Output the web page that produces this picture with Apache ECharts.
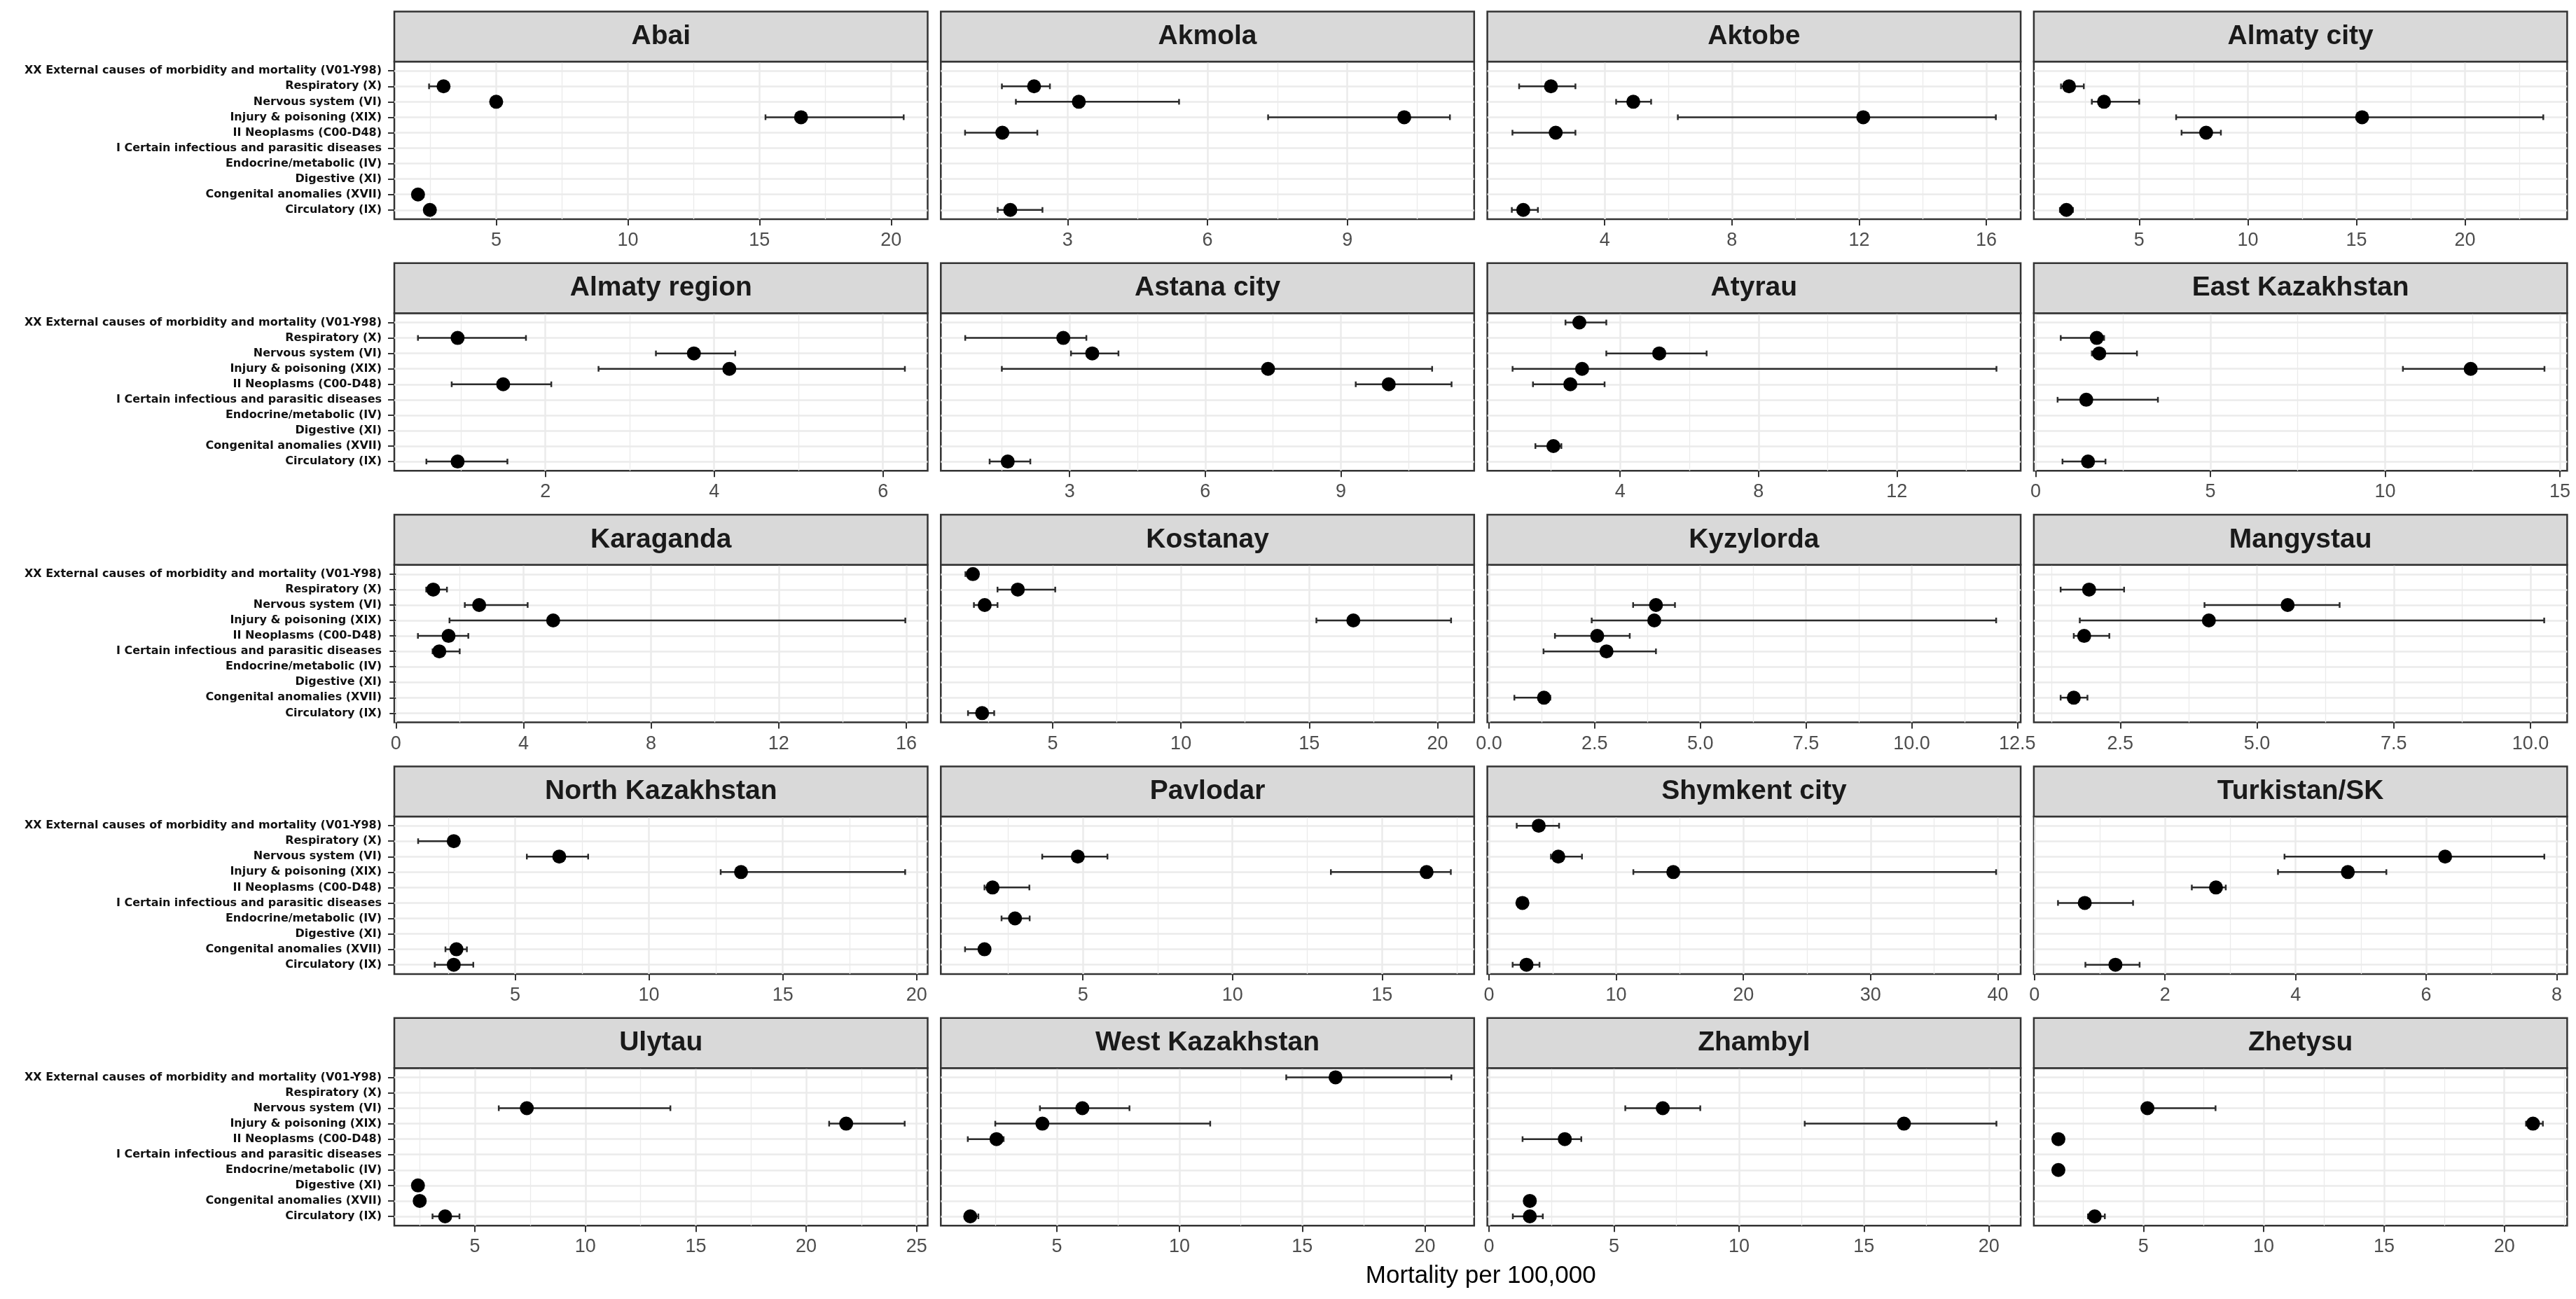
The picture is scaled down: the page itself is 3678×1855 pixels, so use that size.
<!DOCTYPE html>
<html>
<head>
<meta charset="utf-8">
<script src="https://cdn.jsdelivr.net/npm/echarts@6/dist/echarts.min.js"></script>
<style>
html,body{margin:0;padding:0;background:#fff;}
#chart{width:3678px;height:1855px;}
</style>
</head>
<body>
<div id="chart"></div>
<script>
// ---- categories (top to bottom) ----
const categories = [
  "XX External causes of morbidity and mortality (V01-Y98)",
  "Respiratory (X)",
  "Nervous system (VI)",
  "Injury & poisoning (XIX)",
  "II Neoplasms (C00-D48)",
  "I Certain infectious and parasitic diseases",
  "Endocrine/metabolic (IV)",
  "Digestive (XI)",
  "Congenital anomalies (XVII)",
  "Circulatory (IX)"
];

const regions = ["Abai","Akmola","Aktobe","Almaty city","Almaty region","Astana city","Atyrau","East Kazakhstan",
  "Karaganda","Kostanay","Kyzylorda","Mangystau","North Kazakhstan","Pavlodar","Shymkent city","Turkistan/SK",
  "Ulytau","West Kazakhstan","Zhambyl","Zhetysu"];

// ---- estimates / lower / upper, per region, in category order ----
const est_Abai = [null, 3.0, 5.0, 16.58, null, null, null, null, 2.03, 2.48];
const lo_Abai  = [null, 2.45, 4.9, 15.23, null, null, null, null, 2.0, 2.4];
const hi_Abai  = [null, 3.2, 5.1, 20.48, null, null, null, null, 2.1, 2.6];

const est_Akmola = [null, 2.28, 3.24, 10.22, 1.6, null, null, null, null, 1.77];
const lo_Akmola  = [null, 1.59, 1.89, 7.3, 0.8, null, null, null, null, 1.5];
const hi_Akmola  = [null, 2.62, 5.39, 11.2, 2.35, null, null, null, null, 2.46];

const est_Aktobe = [null, 2.31, 4.9, 12.13, 2.46, null, null, null, null, 1.44];
const lo_Aktobe  = [null, 1.31, 4.36, 6.3, 1.1, null, null, null, null, 1.08];
const hi_Aktobe  = [null, 3.08, 5.46, 16.3, 3.08, null, null, null, null, 1.9];

const est_AlmatyCity = [null, 1.77, 3.38, 15.26, 8.08, null, null, null, null, 1.65];
const lo_AlmatyCity  = [null, 1.4, 2.82, 6.7, 6.95, null, null, null, null, 1.35];
const hi_AlmatyCity  = [null, 2.45, 5.0, 23.6, 8.76, null, null, null, null, 1.95];

const est_AlmatyRegion = [null, 0.96, 3.76, 4.18, 1.5, null, null, null, null, 0.96];
const lo_AlmatyRegion  = [null, 0.49, 3.31, 2.63, 0.89, null, null, null, null, 0.59];
const hi_AlmatyRegion  = [null, 1.77, 4.25, 6.26, 2.07, null, null, null, null, 1.55];

const est_Astana = [null, 2.86, 3.5, 7.39, 10.06, null, null, null, null, 1.63];
const lo_Astana  = [null, 0.69, 3.03, 1.5, 9.33, null, null, null, null, 1.23];
const hi_Astana  = [null, 3.37, 4.08, 11.02, 11.45, null, null, null, null, 2.13];

const est_Atyrau = [2.82, null, 5.13, 2.9, 2.56, null, null, null, 2.07, null];
const lo_Atyrau  = [2.42, null, 3.6, 0.89, 1.48, null, null, null, 1.55, null];
const hi_Atyrau  = [3.6, null, 6.5, 14.88, 3.55, null, null, null, 2.3, null];

const est_EastKaz = [null, 1.75, 1.82, 12.45, null, 1.45, null, null, null, 1.5];
const lo_EastKaz  = [null, 0.72, 1.61, 10.51, null, 0.63, null, null, null, 0.77];
const hi_EastKaz  = [null, 1.96, 2.9, 14.56, null, 3.5, null, null, null, 2.0];

const est_Karaganda = [null, 1.17, 2.61, 4.93, 1.65, 1.36, null, null, null, null];
const lo_Karaganda  = [null, 0.95, 2.16, 1.68, 0.69, 1.15, null, null, null, null];
const hi_Karaganda  = [null, 1.6, 4.13, 15.97, 2.27, 2.0, null, null, null, null];

const est_Kostanay = [1.89, 3.64, 2.35, 16.72, null, null, null, null, null, 2.25];
const lo_Kostanay  = [1.6, 2.85, 1.93, 15.28, null, null, null, null, null, 1.7];
const hi_Kostanay  = [2.0, 5.1, 2.85, 20.53, null, null, null, null, null, 2.72];

const est_Kyzylorda = [null, null, 3.95, 3.91, 2.56, 2.78, null, null, 1.3, null];
const lo_Kyzylorda  = [null, null, 3.41, 2.43, 1.56, 1.29, null, null, 0.6, null];
const hi_Kyzylorda  = [null, null, 4.4, 12.0, 3.33, 3.95, null, null, 1.45, null];

const est_Mangystau = [null, 1.93, 5.56, 4.12, 1.84, null, null, null, 1.65, null];
const lo_Mangystau  = [null, 1.41, 4.04, 1.76, 1.65, null, null, null, 1.41, null];
const hi_Mangystau  = [null, 2.57, 6.51, 10.25, 2.3, null, null, null, 1.9, null];

const est_NorthKaz = [null, 2.71, 6.65, 13.44, null, null, null, null, 2.81, 2.71];
const lo_NorthKaz  = [null, 1.38, 5.44, 12.68, null, null, null, null, 2.4, 2.0];
const hi_NorthKaz  = [null, 2.8, 7.73, 19.57, null, null, null, null, 3.2, 3.44];

const est_Pavlodar = [null, null, 4.83, 16.49, 1.98, null, 2.73, null, 1.71, null];
const lo_Pavlodar  = [null, null, 3.64, 13.29, 1.71, null, 2.28, null, 1.06, null];
const hi_Pavlodar  = [null, null, 5.82, 17.3, 3.21, null, 3.22, null, 1.85, null];

const est_Shymkent = [3.91, null, 5.45, 14.49, null, 2.63, null, null, null, 2.95];
const lo_Shymkent  = [2.18, null, 4.87, 11.35, null, 2.5, null, null, null, 1.86];
const hi_Shymkent  = [5.51, null, 7.31, 39.87, null, 2.75, null, null, null, 3.97];

const est_Turkistan = [null, null, 6.29, 4.8, 2.78, 0.77, null, null, null, 1.24];
const lo_Turkistan  = [null, null, 3.83, 3.73, 2.41, 0.36, null, null, null, 0.78];
const hi_Turkistan  = [null, null, 7.81, 5.39, 2.93, 1.51, null, null, null, 1.61];

const est_Ulytau = [null, null, 7.35, 21.81, null, null, null, 2.42, 2.5, 3.65];
const lo_Ulytau  = [null, null, 6.08, 21.04, null, null, null, 2.42, 2.45, 3.08];
const hi_Ulytau  = [null, null, 13.85, 24.46, null, null, null, 2.5, 2.55, 4.3];

const est_WestKaz = [16.36, null, 6.04, 4.41, 2.54, null, null, null, null, 1.47];
const lo_WestKaz  = [14.35, null, 4.31, 2.49, 1.37, null, null, null, null, 1.26];
const hi_WestKaz  = [21.08, null, 7.96, 11.25, 2.83, null, null, null, null, 1.8];

const est_Zhambyl = [null, null, 6.95, 16.6, 3.03, null, null, null, 1.63, 1.63];
const lo_Zhambyl  = [null, null, 5.45, 12.63, 1.34, null, null, null, 1.55, 0.95];
const hi_Zhambyl  = [null, null, 8.45, 20.3, 3.69, null, null, null, 1.7, 2.15];

const est_Zhetysu = [null, null, 5.17, 21.19, 1.47, null, 1.47, null, null, 2.98];
const lo_Zhetysu  = [null, null, 5.1, 20.9, 1.46, null, 1.46, null, null, 2.7];
const hi_Zhetysu  = [null, null, 8.0, 21.6, 1.5, null, 1.5, null, null, 3.4];

// ---- x axis limits and tick labels per panel ----
const xMin = [1.13, 0.28, 0.31, 0.15, 0.21, 0.15, 0.16, -0.05, -0.05, 0.64, -0.04, 0.92, 0.49, 0.25, -0.13, -0.01, 1.35, 0.27, -0.07, 0.45];
const xMax = [21.39, 11.72, 17.08, 24.7, 6.53, 11.95, 15.58, 15.21, 16.67, 21.43, 12.58, 10.67, 20.41, 18.08, 41.8, 8.16, 25.5, 22.01, 21.27, 22.61];
const tickLabels = [
  ["5","10","15","20"], ["3","6","9"], ["4","8","12","16"], ["5","10","15","20"],
  ["2","4","6"], ["3","6","9"], ["4","8","12"], ["0","5","10","15"],
  ["0","4","8","12","16"], ["5","10","15","20"], ["0.0","2.5","5.0","7.5","10.0","12.5"], ["2.5","5.0","7.5","10.0"],
  ["5","10","15","20"], ["5","10","15"], ["0","10","20","30","40"], ["0","2","4","6","8"],
  ["5","10","15","20","25"], ["5","10","15","20"], ["0","5","10","15","20"], ["5","10","15","20"]
];

const xTitle = "Mortality per 100,000";

// ---- assemble ----
const EST = [est_Abai, est_Akmola, est_Aktobe, est_AlmatyCity, est_AlmatyRegion, est_Astana, est_Atyrau, est_EastKaz,
  est_Karaganda, est_Kostanay, est_Kyzylorda, est_Mangystau, est_NorthKaz, est_Pavlodar, est_Shymkent, est_Turkistan,
  est_Ulytau, est_WestKaz, est_Zhambyl, est_Zhetysu];
const LO = [lo_Abai, lo_Akmola, lo_Aktobe, lo_AlmatyCity, lo_AlmatyRegion, lo_Astana, lo_Atyrau, lo_EastKaz,
  lo_Karaganda, lo_Kostanay, lo_Kyzylorda, lo_Mangystau, lo_NorthKaz, lo_Pavlodar, lo_Shymkent, lo_Turkistan,
  lo_Ulytau, lo_WestKaz, lo_Zhambyl, lo_Zhetysu];
const HI = [hi_Abai, hi_Akmola, hi_Aktobe, hi_AlmatyCity, hi_AlmatyRegion, hi_Astana, hi_Atyrau, hi_EastKaz,
  hi_Karaganda, hi_Kostanay, hi_Kyzylorda, hi_Mangystau, hi_NorthKaz, hi_Pavlodar, hi_Shymkent, hi_Turkistan,
  hi_Ulytau, hi_WestKaz, hi_Zhambyl, hi_Zhetysu];

// layout
const panelLeft0 = 563, colStep = 780.3, panelW = 761.5;
const panelTop0 = 88, rowStep = 359.3, panelH = 225, stripH = 71.5;
const catPos = categories.map((c, i) => i + 1);

const grids = [], xAxes = [], yAxes = [], series = [], graphics = [];
const gridLine = '#EBEBEB', dark = '#333333';

regions.forEach((name, i) => {
  const col = i % 4, row = Math.floor(i / 4);
  const left = panelLeft0 + col * colStep;
  const top = panelTop0 + row * rowStep;
  grids.push({left: left, top: top, width: panelW, height: panelH, show: true,
    borderColor: dark, borderWidth: 2.5, backgroundColor: '#ffffff', containLabel: false});

  const ticks = tickLabels[i].map(Number);
  const step = ticks.length > 1 ? ticks[1] - ticks[0] : 1;
  const minors = [];
  const cand = [ticks[0] - step / 2].concat(ticks.map(t => t + step / 2));
  cand.forEach(v => { if (v > xMin[i] && v < xMax[i]) minors.push(v); });

  // main x axis
  xAxes.push({
    gridIndex: i, type: 'value', min: xMin[i], max: xMax[i], position: 'bottom',
    axisLine: {show: false},
    axisTick: {show: true, length: 9, customValues: ticks, lineStyle: {color: dark, width: 2}},
    axisLabel: {show: true, customValues: ticks, margin: 17, fontSize: 27, color: '#4D4D4D',
      fontFamily: 'Liberation Sans',
      formatter: v => { const k = ticks.indexOf(v); return k >= 0 ? tickLabels[i][k] : String(v); }},
    splitLine: {show: true, lineStyle: {color: gridLine, width: 2.5}}
  });
  // minor grid axis
  xAxes.push({
    gridIndex: i, type: 'value', min: xMin[i], max: xMax[i], position: 'top',
    axisLine: {show: false},
    axisTick: {show: false, customValues: minors},
    axisLabel: {show: false, customValues: minors},
    splitLine: {show: true, lineStyle: {color: gridLine, width: 1.3}}
  });
  yAxes.push({
    gridIndex: i, type: 'value', min: 0.4, max: 10.6, inverse: true,
    axisLine: {show: false},
    axisTick: {show: col === 0, length: 9, customValues: catPos, lineStyle: {color: dark, width: 2}},
    axisLabel: {show: col === 0, customValues: catPos, margin: 18, fontSize: 16, fontWeight: 'bold',
      fontFamily: 'DejaVu Sans', color: '#111111',
      formatter: v => categories[Math.round(v) - 1] || ''},
    splitLine: {show: true, lineStyle: {color: gridLine, width: 2.5}}
  });

  const pts = [], bars = [];
  EST[i].forEach((v, k) => {
    if (v !== null) {
      pts.push([v, catPos[k]]);
      bars.push([LO[i][k], catPos[k], HI[i][k]]);
    }
  });
  series.push({
    type: 'custom', xAxisIndex: 2 * i, yAxisIndex: i, z: 3,
    encode: {x: [0, 2], y: 1},
    data: bars,
    renderItem: function (params, api) {
      const a = api.coord([api.value(0), api.value(1)]);
      const b = api.coord([api.value(2), api.value(1)]);
      const h = 4;
      const st = {stroke: '#2b2b2b', lineWidth: 2.5};
      return {type: 'group', children: [
        {type: 'line', shape: {x1: a[0], y1: a[1], x2: b[0], y2: b[1]}, style: st},
        {type: 'line', shape: {x1: a[0], y1: a[1] - h, x2: a[0], y2: a[1] + h}, style: st},
        {type: 'line', shape: {x1: b[0], y1: b[1] - h, x2: b[0], y2: b[1] + h}, style: st}
      ]};
    },
    silent: true
  });
  series.push({
    type: 'scatter', xAxisIndex: 2 * i, yAxisIndex: i, z: 5,
    symbol: 'circle', symbolSize: 20,
    itemStyle: {color: '#000000', opacity: 1},
    data: pts, silent: true
  });

  // facet strip
  graphics.push({
    type: 'rect', z: 10,
    shape: {x: left, y: top - stripH, width: panelW, height: stripH},
    style: {fill: '#D9D9D9', stroke: dark, lineWidth: 2.5}
  });
  graphics.push({
    type: 'text', z: 11, x: left + panelW / 2, y: top - stripH / 2,
    style: {text: name, fill: '#1A1A1A', font: 'bold 39px "Liberation Sans"',
      textAlign: 'center', textVerticalAlign: 'middle'}
  });
});

graphics.push({
  type: 'text', z: 11, x: panelLeft0 + (3 * colStep + panelW) / 2, y: 1822,
  style: {text: xTitle, fill: '#000000', font: '35px "Liberation Sans"',
    textAlign: 'center', textVerticalAlign: 'middle'}
});

const chart = echarts.init(document.getElementById('chart'), null, {renderer: 'canvas'});
chart.setOption({
  backgroundColor: '#ffffff',
  animation: false,
  grid: grids,
  xAxis: xAxes,
  yAxis: yAxes,
  series: series,
  graphic: graphics
});
</script>
</body>
</html>
